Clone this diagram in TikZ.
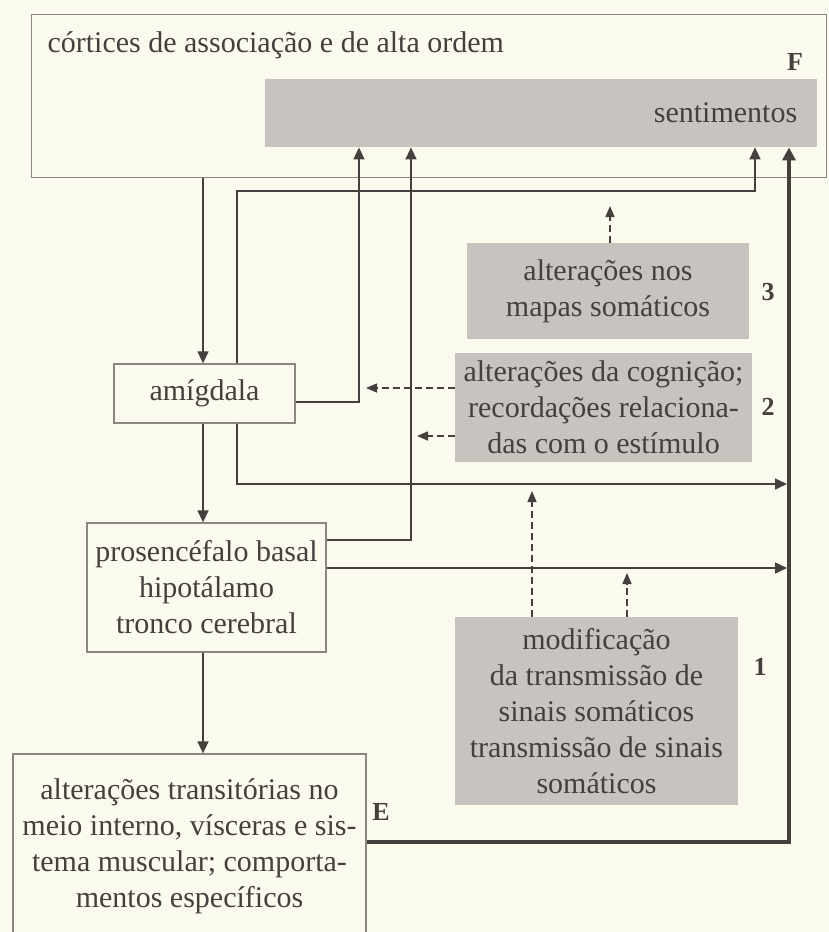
\documentclass[tikz,border=0pt]{standalone}
\usepackage{fontspec}
\setmainfont{Liberation Serif}
\usetikzlibrary{arrows.meta,calc}
\definecolor{bg}{HTML}{FBFAEE}
\definecolor{ink}{HTML}{45403D}
\definecolor{boxline}{HTML}{8C8682}
\definecolor{grayfill}{HTML}{C9C3C0}
\begin{document}
\begin{tikzpicture}[x=1pt,y=-1pt,
  txt/.style={font=\fontsize{30}{36}\selectfont, text=ink, align=center},
  wbox/.style={txt, draw=boxline, line width=1.3pt, fill=bg, inner sep=0pt},
  gbox/.style={txt, fill=grayfill, inner sep=0pt},
  lab/.style={font=\fontsize{26}{30}\selectfont\bfseries, text=ink},
  conn/.style={draw=ink, line width=1.5pt, -{Triangle[length=12pt,width=11pt]}},
  dconn/.style={conn, dash pattern=on 7pt off 4pt, -{Triangle[length=11pt,width=9pt]}},
  thickconn/.style={draw=ink, line width=4pt, -{Triangle[length=13pt,width=13pt]}}
]
\clip (0,0) rectangle (829,932);
\fill[bg] (0,0) rectangle (829,932);

% boxes
\node[wbox, minimum width=795pt, minimum height=163pt, anchor=north west] (F) at (31,14) {};
\node[txt, anchor=west] (Ftitle) at (44,45) {córtices de associação e de alta ordem};
\node[lab] (Flab) at (795,62) {F};
\node[gbox, minimum width=552pt, minimum height=68pt, anchor=north west,
      text width=512pt, align=right, inner xsep=20pt] (sent) at (265,79) {sentimentos};

\node[gbox, minimum width=282pt, minimum height=96pt] (b3) at (608,291) {alterações nos\\mapas somáticos};
\node[lab] (n3) at (768,292) {3};
\node[gbox, minimum width=297pt, minimum height=109pt] (b2) at (603.5,407.5) {alterações da cognição;\\recordações relaciona-\\das com o estímulo};
\node[lab] (n2) at (768,407) {2};
\node[gbox, minimum width=283pt, minimum height=188pt] (b1) at (596.5,711) {modificação\\da transmissão de\\sinais somáticos\\transmissão de sinais\\somáticos};
\node[lab] (n1) at (760,667) {1};

\node[wbox, minimum width=181pt, minimum height=59pt] (amig) at (204.5,393.5) {amígdala};
\node[wbox, minimum width=239pt, minimum height=129pt] (pros) at (206.5,587.5) {prosencéfalo basal\\hipotálamo\\tronco cerebral};
\node[wbox, minimum width=353pt, minimum height=184pt] (E) at (189.5,846) {alterações transitórias no\\meio interno, vísceras e sis-\\tema muscular; comporta-\\mentos específicos};
\node[lab] (Elab) at (381,812) {E};

% helper coordinates
\coordinate (X203) at (203,0);
\coordinate (X237) at (237,0);
\coordinate (K1) at (755,191);
\coordinate (K2) at (359,402);
\coordinate (K3) at (787,484);
\coordinate (K4) at (411,540);
\coordinate (K5) at (787,568);
\coordinate (K6) at (789,842);
\coordinate (K7) at (610,206);
\coordinate (K8) at (366,388);
\coordinate (K9) at (417,436);
\coordinate (K10) at (532,491);
\coordinate (K11) at (627,573);

% solid connectors
\draw[conn] (F.south -| X203) -- (amig.north -| X203);
\draw[conn] (amig.north -| X237) |- (K1) -- (sent.south -| K1);
\draw[conn] (amig.east |- K2) -- (K2) -- (sent.south -| K2);
\draw[conn] (amig.south -| X203) -- (pros.north -| X203);
\draw[conn] (amig.south -| X237) |- (K3);
\draw[conn] (pros.east |- K4) -- (K4) -- (sent.south -| K4);
\draw[conn] (pros.east |- K5) -- (K5);
\draw[conn] (pros.south -| X203) -- (E.north -| X203);
\draw[thickconn] (E.east |- K6) -- (K6) -- (sent.south -| K6);

% dashed connectors
\draw[dconn] (b3.north -| K7) -- (K7);
\draw[dconn] (b2.west |- K8) -- (K8);
\draw[dconn] (b2.west |- K9) -- (K9);
\draw[dconn] (b1.north -| K10) -- (K10);
\draw[dconn] (b1.north -| K11) -- (K11);
\end{tikzpicture}
\end{document}
